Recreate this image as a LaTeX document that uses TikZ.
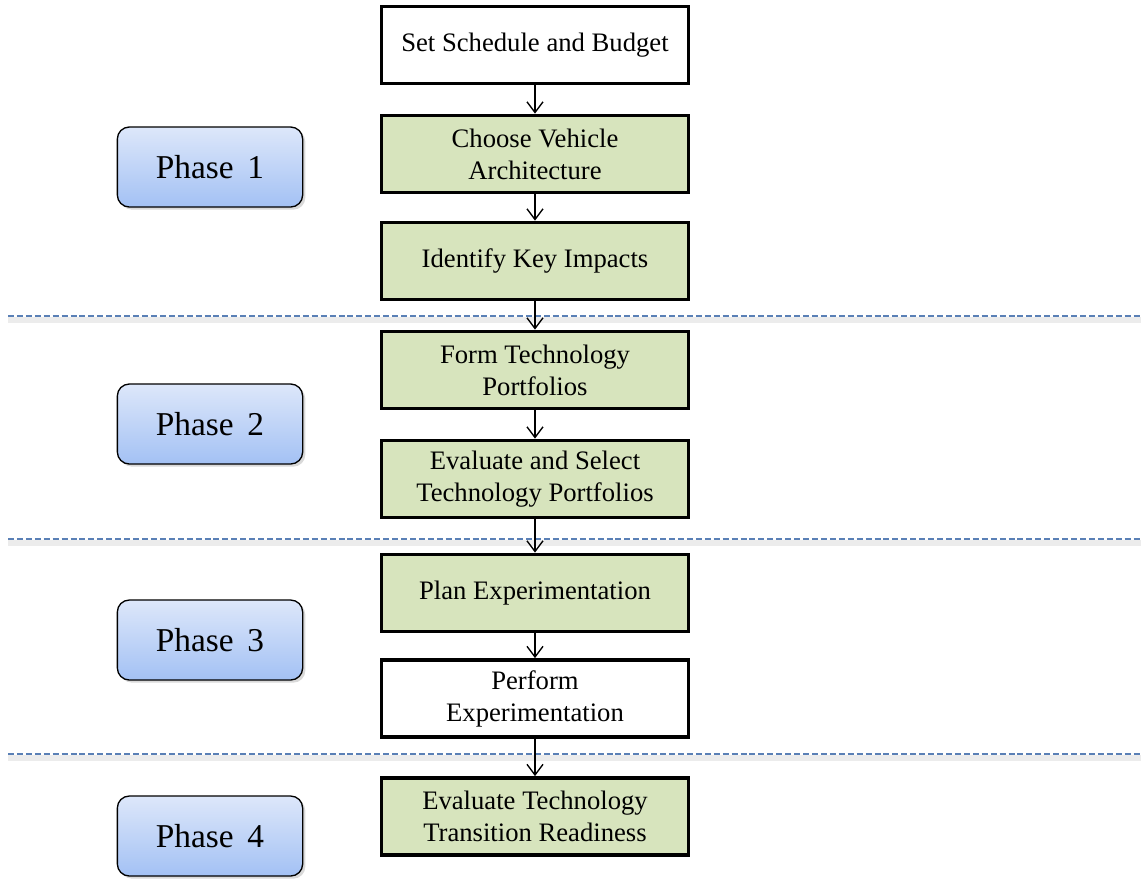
\documentclass[tikz,border=0pt]{standalone}
\usepackage{fontspec}
\setmainfont{Liberation Serif}
\usetikzlibrary{arrows.meta,shadows}

\definecolor{stepgreen}{HTML}{D7E4BD}
\definecolor{phasetop}{HTML}{DDE7FA}
\definecolor{phasebot}{HTML}{A3C1F4}
\definecolor{sepblue}{HTML}{5A80B6}

\tikzset{
  stepbox/.style={draw=black, line width=2.6pt, fill=white, minimum width=230pt,
    minimum height=58pt, inner sep=0pt, align=center,
    font=\fontsize{20}{24}\selectfont},
  greenbox/.style={stepbox, fill=stepgreen},
  phasebox/.style={draw=black, line width=1pt, rounded corners=9pt,
    minimum width=139pt, minimum height=60pt, top color=phasetop,
    bottom color=phasebot, font=\fontsize{25}{30}\selectfont,
    drop shadow={opacity=0.3, shadow xshift=2pt, shadow yshift=-2pt}},
  flow/.style={-{Straight Barb[length=8pt,width=12pt]}, line width=1pt},
  sepline/.style={sepblue, line width=2pt, dash pattern=on 4.5pt off 2.2pt}
}

\begin{document}
\begin{tikzpicture}[x=0.75pt,y=-0.75pt]
\useasboundingbox (0,0) rectangle (1141,879);

% phase separators
\foreach \y in {316,539,754}{
  \draw[gray!15, line width=4pt] (8,\y+4)--(1141,\y+4);
  \draw[sepline] (8,\y)--(1141,\y);
}

% steps
\node[stepbox]  (schedule)  at (535,45)    {Set Schedule and Budget};
\node[greenbox] (vehicle)   at (535,154)   {Choose Vehicle\\Architecture};
\node[greenbox] (impacts)   at (535,261)   {Identify Key Impacts};
\node[greenbox] (form)      at (535,370)   {Form Technology\\Portfolios};
\node[greenbox] (select)    at (535,479)   {Evaluate and Select\\Technology Portfolios};
\node[greenbox] (plan)      at (535,593)   {Plan Experimentation};
\node[stepbox]  (perform)   at (535,698.5) {Perform\\Experimentation};
\node[greenbox] (readiness) at (535,816.5) {Evaluate Technology\\Transition Readiness};

\draw[flow] (schedule) -- (vehicle);
\draw[flow] (vehicle) -- (impacts);
\draw[flow] (impacts) -- (form);
\draw[flow] (form) -- (select);
\draw[flow] (select) -- (plan);
\draw[flow] (plan) -- (perform);
\draw[flow] (perform) -- (readiness);

% phases
\node[phasebox] (phase1) at (210,167) {Phase\, 1};
\node[phasebox] (phase2) at (210,424) {Phase\, 2};
\node[phasebox] (phase3) at (210,640) {Phase\, 3};
\node[phasebox] (phase4) at (210,836) {Phase\, 4};

\end{tikzpicture}
\end{document}
